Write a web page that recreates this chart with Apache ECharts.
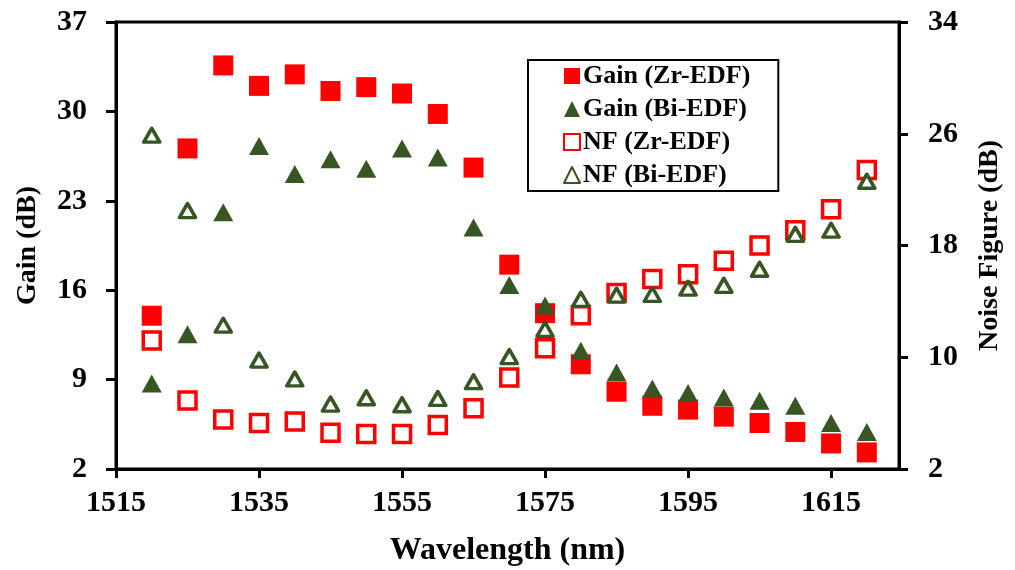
<!DOCTYPE html>
<html>
<head>
<meta charset="utf-8">
<script src="https://cdn.jsdelivr.net/npm/echarts@6/dist/echarts.min.js"></script>
<style>
html,body{margin:0;padding:0;background:#fff;}
#chart{width:1015px;height:570px;}
</style>
</head>
<body>
<div id="chart"></div>
<script>
// ---- data ----
const wavelengths = [1520,1525,1530,1535,1540,1545,1550,1555,1560,1565,1570,1575,1580,1585,1590,1595,1600,1605,1610,1615,1620];
const gainZr = [14.0,27.1,33.6,32.0,32.9,31.6,31.9,31.4,29.8,25.6,18.0,14.2,10.2,8.05,6.95,6.65,6.1,5.6,4.9,4.0,3.3];
const gainBi = [8.7,12.55,22.1,27.3,25.1,26.25,25.5,27.1,26.4,20.9,16.4,14.8,11.25,9.55,8.3,7.95,7.6,7.35,6.95,5.6,4.9];
const nfZr = [11.2,6.9,5.55,5.3,5.4,4.6,4.5,4.5,5.15,6.35,8.55,10.65,13.0,14.6,15.6,15.95,16.9,18.0,19.1,20.6,23.4];
const nfBi = [25.9,20.5,12.3,9.8,8.45,6.65,7.1,6.6,7.05,8.25,10.05,12.0,14.15,14.45,14.5,14.95,15.15,16.3,18.8,19.1,22.6];
const xTicks = [1515,1535,1555,1575,1595,1615];
const seriesNames = ['Gain (Zr-EDF)','Gain (Bi-EDF)','NF (Zr-EDF)','NF (Bi-EDF)'];

const RED = '#ff0000';
const GREEN = '#375623';
const FONT = 'Liberation Serif';

function pairs(ys){ return wavelengths.map((w,i)=>[w, ys[i]]); }

const chart = echarts.init(document.getElementById('chart'), null, {renderer:'canvas'});
const tickText = {color:'#000', fontFamily:FONT, fontWeight:'bold', fontSize:30};
const nameText = {color:'#000', fontFamily:FONT, fontWeight:'bold', fontSize:28};
chart.setOption({
  animation:false,
  backgroundColor:'#fff',
  grid:{left:116, right:116, top:22, bottom:101, outerBoundsMode:'none', containLabel:false,
    show:true, borderColor:'#000', borderWidth:3, backgroundColor:'transparent'},
  legend:{
    orient:'vertical', left:528, top:60,
    padding:[3,28,3,35],
    itemGap:7, itemWidth:16, itemHeight:16,
    borderColor:'#000', borderWidth:2, backgroundColor:'#fff',
    textStyle:{color:'#000', fontFamily:FONT, fontWeight:'bold', fontSize:26, padding:[0,0,0,-2]},
    data:seriesNames
  },
  xAxis:{
    type:'value', min:1515, max:1624.5,
    name:'Wavelength (nm)', nameLocation:'middle', nameGap:66,
    nameTextStyle:{...nameText, fontSize:32},
    axisLine:{show:true, lineStyle:{color:'#000', width:3}},
    axisTick:{show:true, inside:false, length:9, lineStyle:{color:'#000', width:3}, customValues:xTicks},
    axisLabel:{...tickText, margin:19, customValues:xTicks, formatter:(v)=>String(v)},
    splitLine:{show:false}
  },
  yAxis:[{
    type:'value', min:2, max:37, interval:7, position:'left',
    name:'Gain (dB)', nameLocation:'middle', nameGap:74, nameRotate:90,
    nameTextStyle:nameText,
    axisLine:{show:true, lineStyle:{color:'#000', width:3}},
    axisTick:{show:true, inside:false, length:10, lineStyle:{color:'#000', width:3}},
    axisLabel:{...tickText, margin:29},
    splitLine:{show:false}
  },{
    type:'value', min:2, max:34, interval:8, position:'right', alignTicks:false,
    name:'Noise Figure (dB)', nameLocation:'middle', nameGap:77, nameRotate:90,
    nameTextStyle:nameText,
    axisLine:{show:true, lineStyle:{color:'#000', width:3}},
    axisTick:{show:true, inside:false, length:9, lineStyle:{color:'#000', width:3}},
    axisLabel:{...tickText, margin:29},
    splitLine:{show:false}
  }],
  series:[
    {name:seriesNames[0], type:'scatter', yAxisIndex:0, data:pairs(gainZr), symbol:'rect', symbolSize:20,
      itemStyle:{color:RED, opacity:1}, z:2},
    {name:seriesNames[1], type:'scatter', yAxisIndex:0, data:pairs(gainBi), symbol:'triangle', symbolSize:[20,18],
      itemStyle:{color:GREEN, opacity:1}, z:3},
    {name:seriesNames[2], type:'scatter', yAxisIndex:1, data:pairs(nfZr), symbol:'rect', symbolSize:17,
      itemStyle:{color:'#fff', borderColor:RED, borderWidth:3.5, opacity:1}, z:4},
    {name:seriesNames[3], type:'scatter', yAxisIndex:1, data:pairs(nfBi), symbol:'triangle', symbolSize:[16,14],
      itemStyle:{color:'#fff', borderColor:GREEN, borderWidth:3.5, borderJoin:'round', opacity:1}, z:5}
  ]
});
</script>
</body>
</html>
